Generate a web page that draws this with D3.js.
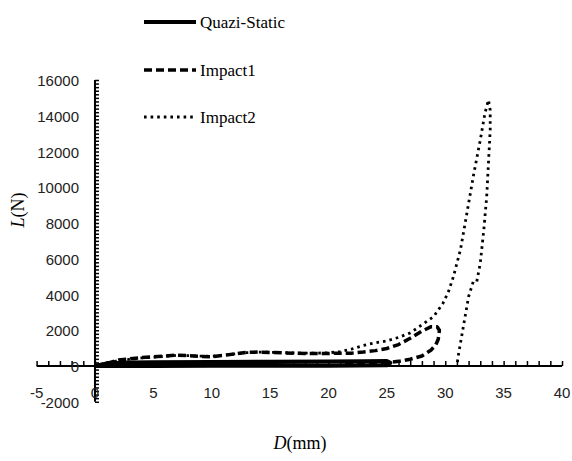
<!DOCTYPE html>
<meta charset="utf-8">
<style>
    body { margin: 0; background: #fff; }
    .tick-label { font: 15px "Liberation Sans", Arial, sans-serif; fill: #222; }
    .serif { font-family: "Liberation Serif", "Times New Roman", serif; fill: #000; }
    path.line { fill: none; stroke: #000; stroke-linejoin: round; }
</style>
<body>
<script src="https://cdn.jsdelivr.net/npm/d3@7/dist/d3.min.js"></script>
<script>
    // D (mm), L (N)
    var quaziD = [0, 1, 3, 5, 10, 15, 20, 23, 25, 25.3, 25, 20, 15, 10, 5, 1, 0];
    var quaziL = [0, 140, 190, 210, 230, 240, 250, 260, 280, 180, 40, 20, 10, 10, 5, 0, 0];

    var impact1D = [0, 1, 2, 3, 4, 5, 6, 7, 8, 9, 10, 11, 12, 13, 14, 15, 16, 17, 18, 19, 20, 21, 22, 23, 24, 25, 26, 27, 28, 28.8, 29.3, 29.5, 29.4, 29.2, 28.8, 28, 27, 26, 25, 23, 21];
    var impact1L = [0, 150, 330, 400, 470, 520, 560, 610, 580, 540, 520, 590, 680, 760, 780, 760, 740, 720, 700, 700, 700, 720, 720, 780, 860, 980, 1200, 1550, 1950, 2200, 2200, 2000, 1500, 1200, 900, 560, 380, 260, 180, 120, 100];

    var impact2D = [0, 1, 2, 3, 4, 5, 6, 7, 8, 9, 10, 11, 12, 13, 14, 15, 16, 17, 18, 19, 20, 21, 22, 23, 24, 25, 26, 27, 28, 29, 29.8, 30.3, 30.7, 31.3, 31.8, 32.4, 33.0, 33.4, 33.7, 33.85, 33.85, 33.7, 33.55, 33.3, 33.0, 32.7, 32.4, 32.0, 31.7, 31.4, 31.1, 31.0];
    var impact2L = [0, 150, 300, 380, 450, 500, 540, 600, 580, 550, 540, 600, 680, 750, 780, 770, 750, 730, 720, 720, 740, 800, 950, 1150, 1300, 1400, 1600, 1850, 2300, 2760, 3500, 4200, 5000, 6500, 8350, 10600, 12640, 14140, 14880, 14320, 13200, 11340, 9470, 7600, 5750, 4720, 4720, 3880, 2760, 1640, 520, 0];

    var xTicks = [-5, 0, 5, 10, 15, 20, 25, 30, 35, 40];
    var yTicks = [-2000, 0, 2000, 4000, 6000, 8000, 10000, 12000, 14000, 16000];

    var seriesNames = ["Quazi-Static", "Impact1", "Impact2"];

    var width = 572, height = 461;

    var x = d3.scaleLinear().domain([-5, 40]).range([36.6, 562]);
    var y = d3.scaleLinear().domain([-2000, 16000]).range([401.75, 80]);

    var svg = d3.select("body").append("svg")
        .attr("width", width)
        .attr("height", height);

    var styles = [
        {width: 4, dash: null},
        {width: 3.5, dash: "8,4"},
        {width: 2.8, dash: "2.6,4"}
    ];

    function pts(ds, ls) {
        return ds.map(function(d, i) { return [d, ls[i]]; });
    }
    var series = [pts(quaziD, quaziL), pts(impact1D, impact1L), pts(impact2D, impact2L)];

    var line = d3.line()
        .x(function(d) { return x(d[0]); })
        .y(function(d) { return y(d[1]); });

    // x axis (at L = 0), ticks upward every 1 mm
    var xAxis = d3.axisTop(x)
        .tickValues(d3.range(-5, 41, 1))
        .tickSize(5)
        .tickFormat("");
    var gx = svg.append("g")
        .attr("transform", "translate(0," + y(0) + ")")
        .call(xAxis);
    gx.select(".domain").attr("stroke-width", 2).attr("d", "M" + x(-5) + ",0H" + x(40));
    gx.selectAll(".tick line").attr("stroke-width", 1.5);

    // y axis (at D = 0), ticks right every 200 N
    var yAxis = d3.axisRight(y)
        .tickValues(d3.range(-2000, 16001, 200))
        .tickSize(4)
        .tickFormat("");
    var gy = svg.append("g")
        .attr("transform", "translate(" + x(0) + ",0)")
        .call(yAxis);
    gy.select(".domain").attr("stroke-width", 2).attr("d", "M0," + y(-2000) + "V" + y(16000));
    gy.selectAll(".tick line").attr("stroke-width", 1.5);

    // tick labels
    svg.append("g").selectAll("text")
        .data(xTicks)
        .enter().append("text")
        .attr("class", "tick-label")
        .attr("x", function(d) { return x(d); })
        .attr("y", 398)
        .attr("text-anchor", "middle")
        .text(function(d) { return d; });

    svg.append("g").selectAll("text")
        .data(yTicks)
        .enter().append("text")
        .attr("class", "tick-label")
        .attr("x", 79)
        .attr("y", function(d) { return y(d) + 6; })
        .attr("text-anchor", "end")
        .text(function(d) { return d; });

    // data lines
    svg.append("g").selectAll("path")
        .data(series)
        .enter().append("path")
        .attr("class", "line")
        .attr("d", line)
        .attr("stroke-width", function(d, i) { return styles[i].width; })
        .attr("stroke-dasharray", function(d, i) { return styles[i].dash; });

    // axis titles
    var yt = svg.append("text")
        .attr("class", "serif")
        .attr("transform", "translate(24,210) rotate(-90)")
        .attr("text-anchor", "middle")
        .style("font-size", "18px");
    yt.append("tspan").style("font-style", "italic").text("L");
    yt.append("tspan").text("(N)");

    var xt = svg.append("text")
        .attr("class", "serif")
        .attr("x", 300)
        .attr("y", 449)
        .attr("text-anchor", "middle")
        .style("font-size", "18px");
    xt.append("tspan").style("font-style", "italic").text("D");
    xt.append("tspan").text("(mm)");

    // legend
    var legendY = [22, 70, 117];
    var lg = svg.append("g").selectAll("g")
        .data(seriesNames)
        .enter().append("g")
        .attr("transform", function(d, i) { return "translate(0," + legendY[i] + ")"; });
    lg.append("line")
        .attr("x1", 144).attr("x2", 196)
        .attr("stroke", "#000")
        .attr("stroke-width", function(d, i) { return styles[i].width; })
        .attr("stroke-dasharray", function(d, i) { return styles[i].dash; });
    lg.append("text")
        .attr("class", "serif")
        .attr("x", 200)
        .attr("y", 6)
        .style("font-size", "17px")
        .text(function(d) { return d; });
</script>
</body>
